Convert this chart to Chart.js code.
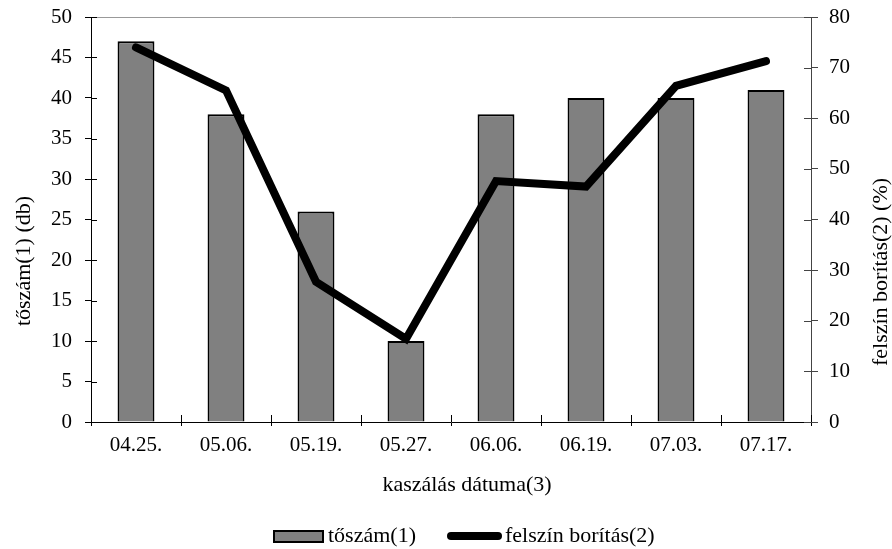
<!DOCTYPE html>
<html>
<head>
<meta charset="utf-8">
<script src="https://cdn.jsdelivr.net/npm/chart.js@4/dist/chart.umd.min.js"></script>
<style>
  html, body { margin: 0; padding: 0; background: #fff; }
  #wrap { width: 892px; height: 549px; position: relative; }
</style>
</head>
<body>
<div id="wrap"><canvas id="c"></canvas></div>
<script>
// ---- data ----
const categories = ['04.25.', '05.06.', '05.19.', '05.27.', '06.06.', '06.19.', '07.03.', '07.17.'];
const tosszam = [47, 38, 26, 10, 38, 40, 40, 41];               // tőszám(1) (db) - left axis
const boritas = [74, 65.5, 27.7, 16.4, 47.6, 46.5, 66.4, 71.3]; // felszín borítás(2) (%) - right axis
const leftTicks = [0, 5, 10, 15, 20, 25, 30, 35, 40, 45, 50];
const rightTicks = [0, 10, 20, 30, 40, 50, 60, 70, 80];
const seriesNames = ['tőszám(1)', 'felszín borítás(2)'];
const axisTitles = { x: 'kaszálás dátuma(3)', y: 'tőszám(1) (db)', y1: 'felszín borítás(2) (%)' };

const FONT = 'Liberation Serif, Times New Roman, serif';

const extras = {
  id: 'extras',
  afterDraw(chart) {
    const ctx = chart.ctx;
    const x = chart.scales.x, y = chart.scales.y, y1 = chart.scales.y1;
    const ca = chart.chartArea;
    ctx.save();
    // inner tick parts
    ctx.lineWidth = 1;
    ctx.strokeStyle = '#000';
    y.ticks.forEach((t, i) => {
      const py = Math.round(y.getPixelForTick(i)) + 0.5;
      ctx.beginPath(); ctx.moveTo(ca.left, py); ctx.lineTo(ca.left + 6, py); ctx.stroke();
    });
    ctx.strokeStyle = '#444';
    y1.ticks.forEach((t, i) => {
      const py = Math.round(y1.getPixelForTick(i)) + 0.5;
      ctx.beginPath(); ctx.moveTo(ca.right - 7, py); ctx.lineTo(ca.right, py); ctx.stroke();
    });
    ctx.strokeStyle = '#000';
    const half = (x.getPixelForValue(1) - x.getPixelForValue(0)) / 2;
    for (let i = 0; i <= categories.length; i++) {
      const px = Math.round(x.getPixelForValue(0) - half + i * 2 * half) + 0.5;
      ctx.beginPath(); ctx.moveTo(px, ca.bottom - 7); ctx.lineTo(px, ca.bottom); ctx.stroke();
    }
    ctx.fillStyle = '#000';
    ctx.font = '22px ' + FONT;
    ctx.textAlign = 'center';
    ctx.textBaseline = 'middle';
    // x axis title
    ctx.fillText(axisTitles.x, 467, 485);
    // left axis title (reads bottom to top)
    ctx.save();
    ctx.translate(24, 261);
    ctx.rotate(-Math.PI / 2);
    ctx.fillText(axisTitles.y, 0, 0);
    ctx.restore();
    // right axis title (reads bottom to top)
    ctx.save();
    ctx.translate(881, 272);
    ctx.rotate(-Math.PI / 2);
    ctx.fillText(axisTitles.y1, 0, 0);
    ctx.restore();
    // legend
    const ly = 536;
    ctx.fillStyle = '#808080';
    ctx.fillRect(274, ly - 5, 49, 11);
    ctx.lineWidth = 2;
    ctx.strokeStyle = '#000';
    ctx.strokeRect(274, ly - 5, 49, 11);
    ctx.fillStyle = '#000';
    ctx.textAlign = 'left';
    ctx.fillText(seriesNames[0], 328, ly);
    ctx.lineWidth = 8;
    ctx.lineCap = 'round';
    ctx.beginPath(); ctx.moveTo(451, ly); ctx.lineTo(498, ly); ctx.stroke();
    ctx.fillText(seriesNames[1], 505, ly);
    ctx.restore();
  }
};

new Chart(document.getElementById('c'), {
  type: 'bar',
  data: {
    labels: categories,
    datasets: [
      {
        type: 'bar',
        label: seriesNames[0],
        data: tosszam,
        yAxisID: 'y',
        backgroundColor: '#808080',
        borderColor: '#000',
        borderWidth: 2,
        barPercentage: 0.41,
        categoryPercentage: 1,
        order: 2
      },
      {
        type: 'line',
        label: seriesNames[1],
        data: boritas,
        yAxisID: 'y1',
        borderColor: '#000',
        backgroundColor: '#000',
        borderWidth: 8,
        borderCapStyle: 'round',
        borderJoinStyle: 'miter',
        pointRadius: 0,
        tension: 0,
        fill: false,
        order: 1
      }
    ]
  },
  options: {
    responsive: true,
    maintainAspectRatio: false,
    animation: false,
    layout: { padding: { top: 17, bottom: 53, left: 0, right: 0 } },
    plugins: {
      legend: { display: false },
      tooltip: { enabled: false }
    },
    scales: {
      x: {
        offset: true,
        grid: { display: true, offset: true, drawOnChartArea: false, tickLength: 4, color: '#000', tickColor: '#000' },
        border: { display: true, color: '#000', width: 1 },
        ticks: { color: '#000', font: { family: FONT, size: 21 }, padding: 7, maxRotation: 0, autoSkip: false },
        title: { display: false },
        afterFit(s) { s.height = 74; }
      },
      y: {
        position: 'left',
        min: 0, max: 50,
        afterBuildTicks(s) { s.ticks = leftTicks.map(v => ({ value: v })); },
        grid: {
          drawOnChartArea: true,
          tickLength: 6,
          tickColor: '#000',
          color: (c) => (c.tick && c.tick.value === 50 ? '#999' : 'rgba(0,0,0,0)')
        },
        border: { display: true, color: '#000', width: 1 },
        ticks: { color: '#000', font: { family: FONT, size: 21 }, padding: 13 },
        title: { display: false },
        afterFit(s) { s.width = 91; s.paddingTop = 0; s.paddingBottom = 0; }
      },
      y1: {
        position: 'right',
        min: 0, max: 80,
        afterBuildTicks(s) { s.ticks = rightTicks.map(v => ({ value: v })); },
        grid: { drawOnChartArea: false, tickLength: 7, color: '#444', tickColor: '#444' },
        border: { display: true, color: '#444', width: 1 },
        ticks: { color: '#000', font: { family: FONT, size: 21 }, padding: 11 },
        afterFit(s) { s.width = 81; s.paddingTop = 0; s.paddingBottom = 0; }
      }
    }
  },
  plugins: [extras]
});
</script>
</body>
</html>
